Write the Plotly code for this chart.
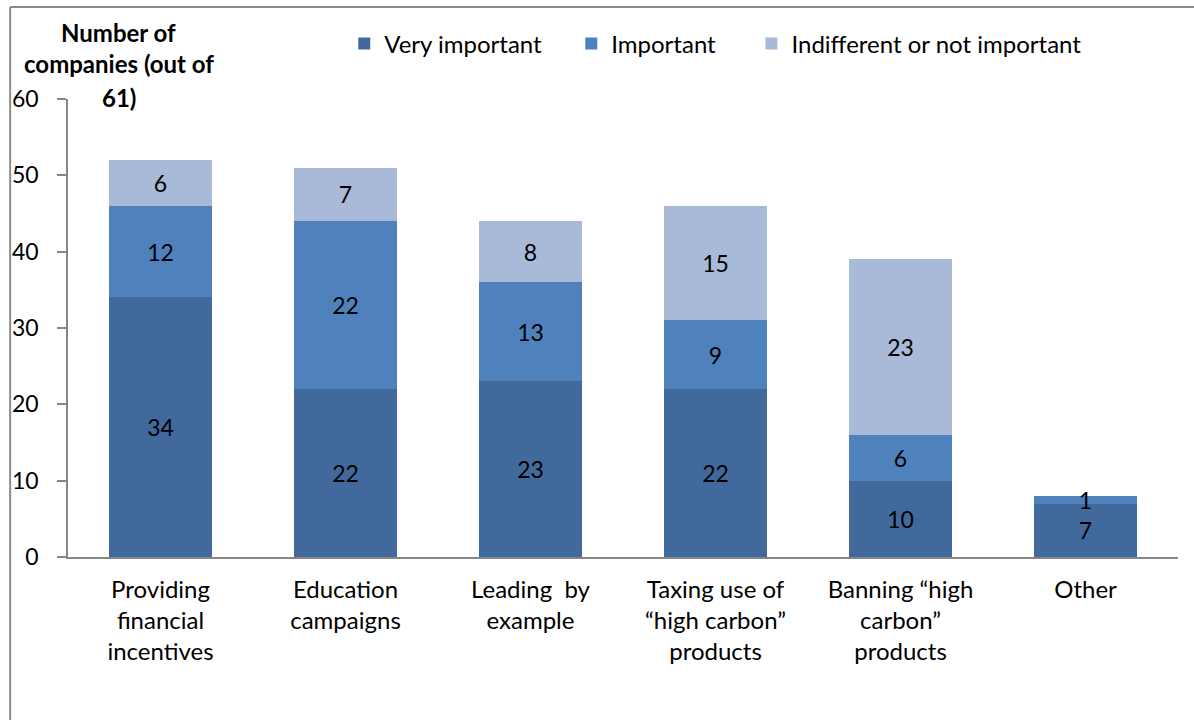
import plotly.graph_objects as go

# Survey responses: how important each policy measure is (companies, out of 61)
categories = [
    "Providing<br>financial<br>incentives",
    "Education<br>campaigns",
    "Leading  by<br>example",
    "Taxing use of<br>\u201chigh carbon\u201d<br>products",
    "Banning \u201chigh<br>carbon\u201d<br>products",
    "Other",
]
very_important = [34, 22, 23, 22, 10, 7]
important = [12, 22, 13, 9, 6, 1]
indifferent = [6, 7, 8, 15, 23, 0]

# Non-breaking spaces widen the gaps between legend entries
PAD = "\u00a0"
series = [
    ("Very important" + PAD * 4, very_important, "#41699C"),
    ("Important" + PAD * 5, important, "#4F81BD"),
    ("Indifferent or not important", indifferent, "#A9B9D8"),
]

FONT = "Lato, Carlito, Calibri, sans-serif"
FS = 24
W, H = 1194, 720
L, R, T, B = 65, 16, 99, 163
pw, ph = W - L - R, H - T - B


def px_x(x):
    return (x - L) / pw


def px_y(y):
    return (H - B - y) / ph


fig = go.Figure()
for name, vals, color in series:
    fig.add_trace(go.Bar(
        name=name,
        x=categories,
        y=vals,
        marker=dict(color=color, line=dict(width=0)),
        text=[str(v) if v else "" for v in vals],
        textposition="inside",
        insidetextanchor="middle",
        textangle=0,
        textfont=dict(family=FONT, size=FS - 1, color="#000000"),
        hoverinfo="skip",
    ))

fig.update_layout(
    width=W,
    height=H,
    barmode="stack",
    bargap=0.44,
    margin=dict(l=L, r=R, t=T, b=B),
    paper_bgcolor="#FFFFFF",
    plot_bgcolor="#FFFFFF",
    font=dict(family=FONT, size=FS, color="#000000"),
    uniformtext=dict(mode="show", minsize=FS - 1),
    showlegend=True,
    legend=dict(
        orientation="h",
        x=px_x(342),
        xanchor="left",
        y=px_y(44),
        yanchor="middle",
        font=dict(family=FONT, size=FS, color="#000000"),
        itemwidth=30,
        traceorder="normal",
        bgcolor="rgba(0,0,0,0)",
    ),
    xaxis=dict(
        showline=True,
        linecolor="#868686",
        linewidth=1.5,
        ticks="",
        showgrid=False,
        tickfont=dict(family=FONT, size=FS),
        ticklabelstandoff=10,
        fixedrange=True,
    ),
    yaxis=dict(
        range=[0, 60],
        dtick=10,
        showline=True,
        linecolor="#868686",
        linewidth=1.5,
        ticks="outside",
        ticklen=9,
        tickcolor="#868686",
        tickwidth=1.5,
        showgrid=False,
        zeroline=False,
        tickfont=dict(family=FONT, size=FS - 1),
        ticklabelstandoff=14,
        fixedrange=True,
    ),
)

# Axis title, one line per annotation
for text, yc in [("Number of", 32), ("companies (out of", 63), ("61)", 97)]:
    fig.add_annotation(
        text=f"<b>{text}</b>",
        xref="paper", yref="paper",
        x=px_x(116), y=px_y(yc),
        xanchor="center", yanchor="middle",
        showarrow=False,
        font=dict(family=FONT, size=FS, color="#000000"),
    )

# Chart frame (top and left edges)
frame = dict(color="#8C8C8C", width=2)
fig.add_shape(type="line", xref="paper", yref="paper",
              x0=px_x(7), y0=px_y(7), x1=px_x(W + 10), y1=px_y(7), line=frame)
fig.add_shape(type="line", xref="paper", yref="paper",
              x0=px_x(7), y0=px_y(7), x1=px_x(7), y1=px_y(H + 10), line=frame)

fig.write_html("out.html")
